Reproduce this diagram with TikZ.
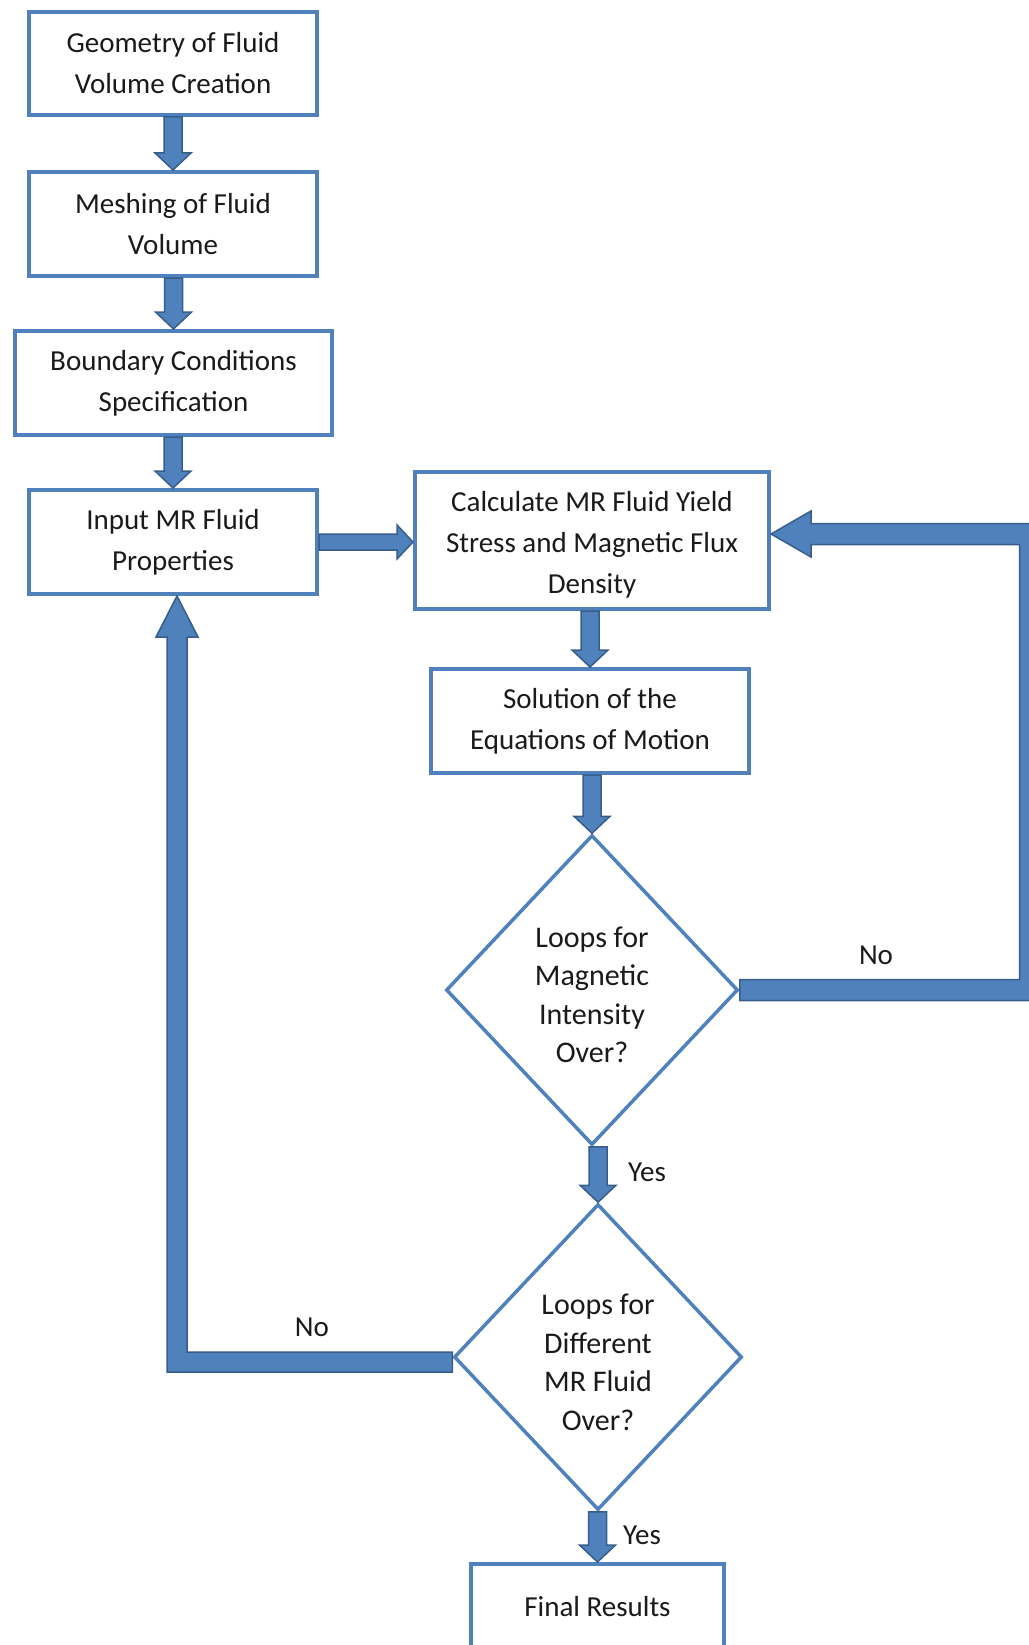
\documentclass[tikz,border=0pt]{standalone}
\usepackage{fontspec}
\setmainfont{Carlito}
\usetikzlibrary{shapes.geometric,calc}
\definecolor{boxblue}{HTML}{4F81BD}
\definecolor{arrowedge}{HTML}{385D8A}
\definecolor{txt}{HTML}{1A1A1A}
\tikzset{
 procbox/.style={draw=boxblue, line width=4pt, fill=white, align=center, text=txt, font=\fontsize{29}{41}\selectfont, inner sep=0pt},
 decision/.style={diamond, draw=boxblue, line width=3.5pt, fill=white, align=center, text=txt, font=\fontsize{30}{38.5}\selectfont, inner sep=0pt},
 fatarrow/.style={fill=boxblue, draw=arrowedge, line width=1.5pt, line join=miter},
 lbl/.style={text=txt, font=\fontsize{29}{35}\selectfont, inner sep=0pt},
}
\newcommand{\tup}[1]{\rule{0pt}{#1}}
\newcommand{\arrowdown}[2]{%
 \path[fatarrow] let \p1=(#1.south), \p2=(#2.north) in
 (\x2-9pt,\y1) -- (\x2-9pt,\y2+17pt) -- (\x2-18pt,\y2+17pt) -- (\x2,\y2) -- (\x2+18pt,\y2+17pt) -- (\x2+9pt,\y2+17pt) -- (\x2+9pt,\y1) -- cycle;}
\newcommand{\arrowright}[2]{%
 \path[fatarrow] let \p1=(#1.east), \p2=(#2.west) in
 (\x1,\y1+8pt) -- (\x2-16pt,\y1+8pt) -- (\x2-16pt,\y1+17pt) -- (\x2,\y1) -- (\x2-16pt,\y1-17pt) -- (\x2-16pt,\y1-8pt) -- (\x1,\y1-8pt) -- cycle;}
\begin{document}
\begin{tikzpicture}[x=1pt,y=-1pt]
\node[procbox, minimum width=288pt, minimum height=103pt] (geo) at (173,63.5) {Geometry of Fluid\\Volume Creation};
\node[procbox, minimum width=288pt, minimum height=104pt] (mesh) at (173,224) {Meshing of Fluid\\Volume};
\node[procbox, minimum width=317pt, minimum height=104pt] (bc) at (173.5,383) {Boundary Conditions\\Specification};
\node[procbox, minimum width=288pt, minimum height=104pt] (inp) at (173,542) {Input MR Fluid\\Properties};
\node[procbox, minimum width=354pt, minimum height=137pt] (calc) at (592,540.5) {\tup{29pt}Calculate MR Fluid Yield\\Stress and Magnetic Flux\\Density};
\node[procbox, minimum width=318pt, minimum height=104pt] (sol) at (590,721) {Solution of the\\Equations of Motion};
\node[decision, minimum width=292pt, minimum height=310pt] (d1) at (592,990) {\tup{30pt}Loops for\\Magnetic\\Intensity\\Over?};
\node[decision, minimum width=288pt, minimum height=306pt] (d2) at (598,1357) {\tup{31pt}Loops for\\Different\\MR Fluid\\Over?};
\node[procbox, minimum width=253pt, minimum height=90pt] (fin) at (597.5,1609) {\rule[-6pt]{0pt}{6pt}Final Results};

\arrowdown{geo}{mesh}
\arrowdown{mesh}{bc}
\arrowdown{bc}{inp}
\arrowright{inp}{calc}
\arrowdown{calc}{sol}
\arrowdown{sol}{d1}
\arrowdown{d1}{d2}
\arrowdown{d2}{fin}

% right loop: d1 -> calc
\path[fatarrow] let \p1=(d1.east), \p2=(calc.east) in
 (\x1,\y1+10.5pt) -- (1019.5pt,\y1+10.5pt) -- (1019.5pt,\y2+6.5pt-10.5pt) -- (\x2+40pt,\y2+6.5pt-10.5pt)
 -- (\x2+40pt,\y2+6.5pt-23pt) -- (\x2,\y2+6.5pt) -- (\x2+40pt,\y2+6.5pt+23pt) -- (\x2+40pt,\y2+6.5pt+10.5pt)
 -- (1040pt,\y2+6.5pt+10.5pt) -- (1040pt,\y1-10.5pt) -- (\x1,\y1-10.5pt) -- cycle;
% left loop: d2 -> inp
\path[fatarrow] let \p1=(d2.west), \p2=(inp.south) in
 (\x1,\y1-5pt+10pt) -- (\x2+4pt+10pt,\y1-5pt+10pt) -- (\x2+4pt+10pt,\y2-41pt) -- (\x2+4pt+21pt,\y2-41pt)
 -- (\x2+4pt,\y2) -- (\x2+4pt-21pt,\y2-41pt) -- (\x2+4pt-10pt,\y2-41pt)
 -- (\x2+4pt-10pt,\y1-5pt-10pt) -- (\x1,\y1-5pt-10pt) -- cycle;

\node[lbl] (no1) at (876,955) {No};
\node[lbl] (yes1) at (647,1172) {Yes};
\node[lbl] (no2) at (312,1327) {No};
\node[lbl] (yes2) at (642,1535) {Yes};

\pgfresetboundingbox
\path[use as bounding box] (0,0) rectangle (1028,1645);
\end{tikzpicture}
\end{document}
